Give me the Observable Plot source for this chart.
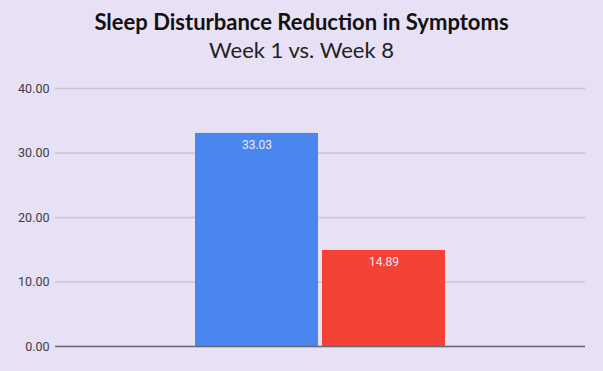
<!DOCTYPE html>
<html>
<head>
<meta charset="utf-8">
<script src="https://cdn.jsdelivr.net/npm/d3@7"></script>
<script src="https://cdn.jsdelivr.net/npm/@observablehq/plot@0.6"></script>
<style>
  html, body { margin: 0; padding: 0; background: #E8E0F5; }
  #wrap { width: 603px; height: 371px; overflow: hidden; background: #E8E0F5; }
  .title { font-family: Lato, sans-serif; font-weight: bold; font-size: 22px; color: #111; text-align: center; line-height: 34px; padding-top: 5px; box-sizing: border-box; height: 38px; }
  .subtitle { font-family: Lato, sans-serif; font-size: 22px; color: #222; text-align: center; height: 26px; line-height: 24px; }
</style>
</head>
<body>
<div id="wrap">
  <div class="title">Sleep Disturbance Reduction in Symptoms</div>
  <div class="subtitle">Week 1 vs. Week 8</div>
  <div id="chart"></div>
</div>
<script>
const categories = ["Week 1", "Week 8"];
const values = [33.03, 14.89];
const colors = ["#4A86F0", "#F44336"];
const yTicks = [0, 10, 20, 30, 40];

const data = categories.map((c, i) => ({category: c, value: values[i]}));
const svgHeight = 371 - 64;
const zeroY = 346 - 64;
const topY = 88 - 64;

const chart = Plot.plot({
  width: 603,
  height: svgHeight,
  marginLeft: 55,
  marginRight: 18,
  marginTop: topY,
  marginBottom: svgHeight - zeroY,
  style: {background: "transparent", fontFamily: "Roboto, sans-serif", fontSize: "12.5px", color: "#444"},
  x: {domain: categories, paddingInner: 0.03125, paddingOuter: 1.086, axis: null},
  y: {domain: [0, 40], ticks: yTicks, tickFormat: d => d.toFixed(2), label: null},
  color: {domain: categories, range: colors},
  marks: [
    Plot.gridY(yTicks, {stroke: "#CBC4D6", strokeOpacity: 1, strokeWidth: 1.3}),
    Plot.axisY(yTicks, {tickSize: 0, tickPadding: 6, tickFormat: d => d.toFixed(2), fill: "#3F3A48", fontSize: 12.5, label: null}),
    Plot.barY(data, {x: "category", y: "value", fill: "category"}),
    Plot.text(data, {x: "category", y: "value", text: d => d.value.toFixed(2), dy: 12, fill: "#E3EAF8", fontSize: 12}),
    Plot.ruleY([0], {stroke: "#6B6478", strokeWidth: 1.6})
  ]
});
document.getElementById("chart").appendChild(chart);
</script>
</body>
</html>
